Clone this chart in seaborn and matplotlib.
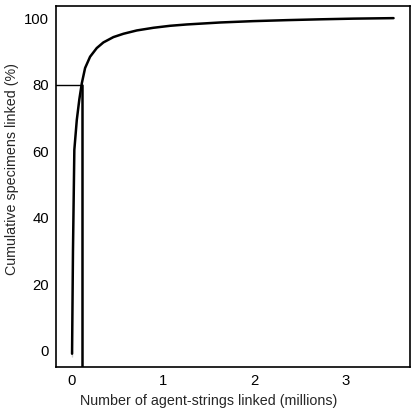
import numpy as np
import pandas as pd
import seaborn as sns
import matplotlib.pyplot as plt

# data
agents_m = [0.0, 0.0, 0.01, 0.025, 0.052, 0.08, 0.107, 0.143, 0.198, 0.271,
            0.344, 0.454, 0.564, 0.711, 0.893, 1.077, 1.26, 1.63, 1.99, 2.36,
            2.73, 3.09, 3.53]
cum_pct = [-1.8, 0.0, 30.0, 60.4, 69.4, 75.6, 80.4, 85.0, 88.4, 91.0,
           92.7, 94.3, 95.3, 96.3, 97.1, 97.7, 98.1, 98.7, 99.1, 99.4,
           99.65, 99.85, 100.0]
cut_x = 0.107
cut_y = 80
x_ticks = [0, 1, 2, 3]
y_ticks = [0, 20, 40, 60, 80, 100]

sns.set_style('white')
plt.rcParams['font.family'] = ['Liberation Sans', 'DejaVu Sans']

df = pd.DataFrame({'x': agents_m, 'y': cum_pct})

fig = plt.figure(figsize=(4.12, 4.11), dpi=100)
ax = fig.add_axes([0.136, 0.107, 0.859, 0.878])

sns.lineplot(data=df, x='x', y='y', sort=False, color='black', lw=1.8, ax=ax)

xmin, xmax = -0.176, 3.71
ymin, ymax = -4.9, 103.6
ax.plot([cut_x, cut_x], [ymin, cut_y], color='black', lw=1.8)
ax.plot([xmin, cut_x], [cut_y, cut_y], color='black', lw=1.0)

ax.set_xlim(xmin, xmax)
ax.set_ylim(ymin, ymax)
ax.set_xticks(x_ticks)
ax.set_yticks(y_ticks)
ax.tick_params(direction='in', length=7, width=1.2, labelsize=10.7, colors='black', pad=5)
ax.set_xlabel('Number of agent-strings linked (millions)', fontsize=10.3)
ax.set_ylabel('Cumulative specimens linked (%)', fontsize=10.3)
ax.xaxis.set_label_coords(0.432, -0.075)
ax.yaxis.set_label_coords(-0.105, 0.548)
for s in ax.spines.values():
    s.set_color('black')
    s.set_linewidth(1.2)

fig.savefig('out.png', dpi=100)
